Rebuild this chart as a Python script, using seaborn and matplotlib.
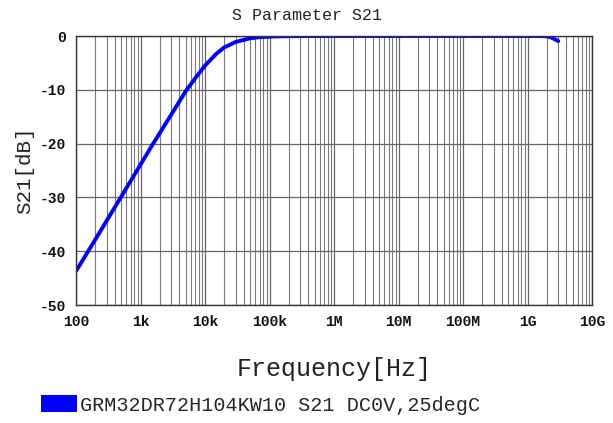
import matplotlib
matplotlib.use("Agg")
import matplotlib.pyplot as plt
from matplotlib.patches import Patch
from matplotlib.ticker import LogLocator, FixedLocator, NullFormatter
import seaborn as sns
import pandas as pd
import numpy as np

# Data
freq_hz = [100, 200, 300, 500, 700, 1e3, 1.5e3, 2e3, 3e3, 5e3, 7e3, 1e4, 1.5e4,
           2e4, 3e4, 5e4, 7e4, 1e5, 2e5, 5e5, 1e6, 1e7, 1e8, 1e9, 1.5e9, 2e9,
           2.3e9, 2.6e9, 3e9]
s21_db = [-43.7, -37.8, -34.3, -29.9, -27.0, -23.9, -20.4, -18.0, -14.6, -10.3,
          -7.9, -5.5, -3.3, -2.1, -1.1, -0.42, -0.22, -0.11, -0.03, -0.01,
          0.0, 0.0, 0.0, 0.0, 0.0, -0.05, -0.25, -0.55, -0.95]
x_ticks = [1e2, 1e3, 1e4, 1e5, 1e6, 1e7, 1e8, 1e9, 1e10]
x_tick_labels = ["100", "1k", "10k", "100k", "1M", "10M", "100M", "1G", "10G"]
y_ticks = [0, -10, -20, -30, -40, -50]
series_label = "GRM32DR72H104KW10 S21 DC0V,25degC"

df = pd.DataFrame({"freq": freq_hz, "s21": s21_db})

sns.set_style("white")
plt.rcParams["font.family"] = ["Liberation Mono", "DejaVu Sans Mono"]

fig = plt.figure(figsize=(6.13, 4.23), dpi=100)
ax = fig.add_axes([76 / 613, 1 - 305 / 423, (592 - 76) / 613, (305 - 36) / 423])

sns.lineplot(data=df, x="freq", y="s21", ax=ax, color="#0000ff", linewidth=2.8,
             legend=False)

ax.set_xscale("log")
ax.set_xlim(1e2, 1e10)
ax.set_ylim(-50, 0)

ax.xaxis.set_major_locator(FixedLocator(x_ticks))
ax.set_xticklabels(x_tick_labels)
ax.xaxis.set_minor_locator(LogLocator(base=10, subs=np.arange(2, 10), numticks=100))
ax.xaxis.set_minor_formatter(NullFormatter())
ax.set_yticks(y_ticks)
ax.set_yticklabels([str(v) for v in y_ticks])

ax.grid(True, which="major", axis="both", color="#666666", linewidth=0.9)
ax.grid(True, which="minor", axis="x", color="#7a7a7a", linewidth=0.8)
ax.set_axisbelow(True)

for sp in ax.spines.values():
    sp.set_color("#333333")
    sp.set_linewidth(1.0)

ax.tick_params(axis="both", which="major", length=3, width=0.8, color="#333333",
               labelsize=10.5, pad=4)
ax.tick_params(axis="x", which="minor", length=0)
for lbl in ax.get_xticklabels() + ax.get_yticklabels():
    lbl.set_fontweight("bold")
    lbl.set_color("#111111")

ax.set_xlabel("Frequency[Hz]", fontsize=18, labelpad=20, color="#222222")
ax.set_ylabel("S21[dB]", fontsize=15, labelpad=4, color="#222222")
fig.text(0.5, 1 - 15 / 423, "S Parameter S21", ha="center", va="center",
         fontsize=12, color="#222222")

handle = Patch(facecolor="#0000ff", edgecolor="none")
fig.legend([handle], [series_label], loc="center left",
           bbox_to_anchor=(41 / 613, 1 - 405 / 423), frameon=False,
           fontsize=14.5, handlelength=1.8, handleheight=0.9, handletextpad=0.15,
           borderaxespad=0, borderpad=0)

fig.savefig("out.png", dpi=100, facecolor="white")
